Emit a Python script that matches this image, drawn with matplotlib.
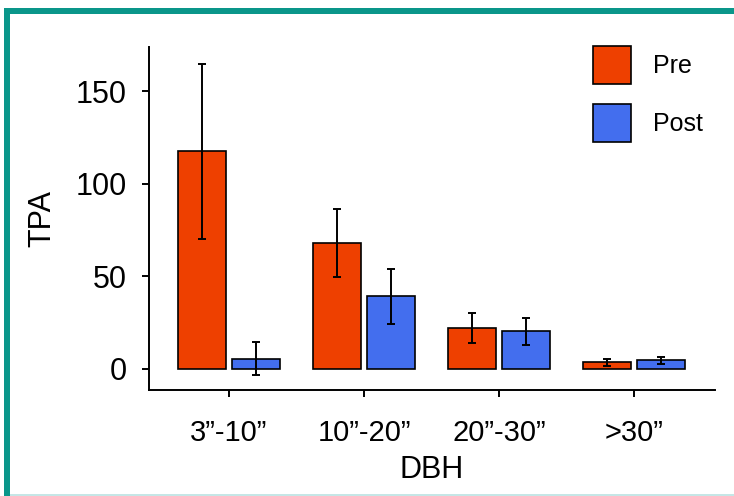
import matplotlib
matplotlib.use("Agg")
from matplotlib import pyplot as plt
from matplotlib.patches import Rectangle, Patch
import numpy as np

# data
size_classes = ["3\u201d-10\u201d", "10\u201d-20\u201d", "20\u201d-30\u201d", ">30\u201d"]
pre_tpa = [117.5, 67.8, 22.0, 3.5]
pre_err = [47.5, 18.4, 8.0, 1.8]
post_tpa = [5.5, 39.2, 20.2, 4.5]
post_err = [9.0, 15.0, 7.2, 1.8]
series_names = ["Pre", "Post"]
y_ticks = [0, 50, 100, 150]

pre_color = "#EE4000"
post_color = "#436EEE"
frame_color = "#0A968A"

plt.rcParams["font.family"] = ["Liberation Sans", "DejaVu Sans"]

W, H = 734, 496
fig = plt.figure(figsize=(W / 100, H / 100), dpi=100)
fig.patch.set_facecolor("white")


def px_rect(x0, y0, x1, y1, color):
    # rectangle given in pixel coords measured from top-left
    fig.add_artist(Rectangle((x0 / W, 1 - y1 / H), (x1 - x0) / W, (y1 - y0) / H,
                             transform=fig.transFigure, color=color, lw=0, zorder=0))


# teal frame around the slide
px_rect(4, 8, W, 14, frame_color)
px_rect(4, 8, 10, H, frame_color)
px_rect(10, 494, W, H, "#C5E6E6")

ax = fig.add_axes([148.7 / W, 106 / H, 566.3 / W, 343 / H])
ax.set_facecolor("none")

x = np.arange(len(size_classes))
offset = 0.2
width = 0.352
err_kw = dict(ecolor="black", elinewidth=1.4, capsize=2.6, capthick=1.4)
ax.bar(x - offset, pre_tpa, width, color=pre_color, edgecolor="black", linewidth=1.2,
       yerr=pre_err, error_kw=err_kw, label=series_names[0])
ax.bar(x + offset, post_tpa, width, color=post_color, edgecolor="black", linewidth=1.2,
       yerr=post_err, error_kw=err_kw, label=series_names[1])

ax.set_xlim(-0.595, 3.6)
ax.set_ylim(-11.5, 174)
ax.set_xticks(x)
ax.set_xticklabels(size_classes)
ax.set_yticks(y_ticks)

for side in ["top", "right"]:
    ax.spines[side].set_visible(False)
for side in ["left", "bottom"]:
    ax.spines[side].set_linewidth(1.4)
ax.tick_params(axis="both", length=5, width=1.4, labelsize=22)
ax.tick_params(axis="x", labelsize=21, pad=16)
ax.tick_params(axis="y", pad=11)

ax.set_xlabel("DBH", fontsize=22)
ax.set_ylabel("TPA", fontsize=22)
ax.xaxis.set_label_coords(0.5, -0.19)
ax.yaxis.set_label_coords(-0.162, 0.5)

handles = [Patch(facecolor=pre_color, edgecolor="black", linewidth=1.2),
           Patch(facecolor=post_color, edgecolor="black", linewidth=1.2)]
ax.legend(handles, series_names, loc="upper left", bbox_to_anchor=(593 / W, 1 - 46 / H),
          bbox_transform=fig.transFigure, frameon=False, fontsize=18,
          handlelength=1.5, handleheight=1.95, labelspacing=0.8, handletextpad=0.9,
          borderpad=0, borderaxespad=0)

fig.savefig("out.png", dpi=100)
